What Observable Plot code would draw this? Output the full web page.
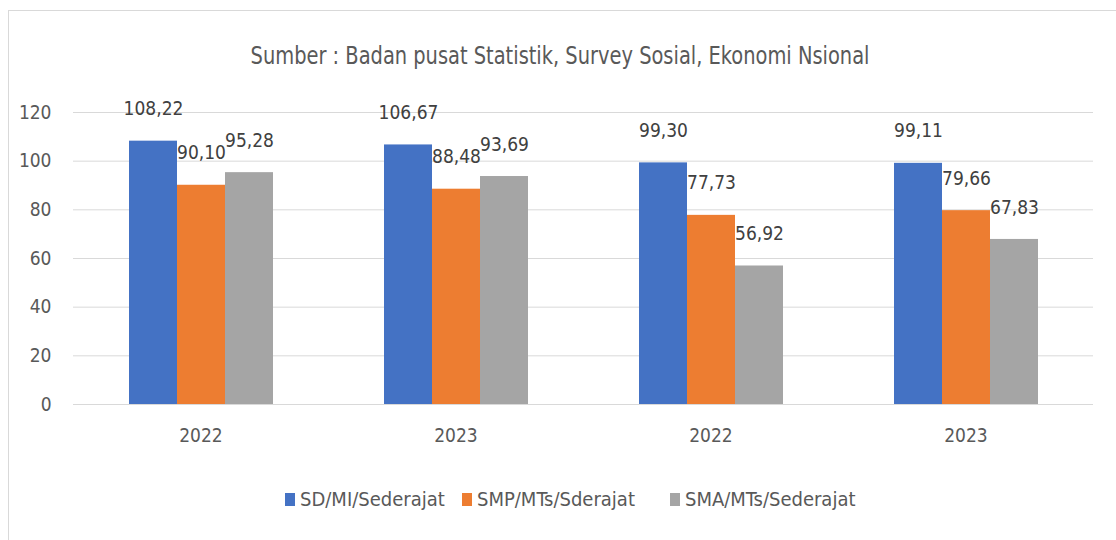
<!DOCTYPE html>
<html>
<head>
<meta charset="utf-8">
<script src="https://cdn.jsdelivr.net/npm/d3@7"></script>
<script src="https://cdn.jsdelivr.net/npm/@observablehq/plot@0.6"></script>
<style>
  html, body { margin: 0; padding: 0; background: #fff; }
  #wrap { position: relative; width: 1116px; height: 540px; overflow: hidden; background: #fff;
          font-family: "Liberation Sans Narrow", "DejaVu Sans Condensed", "Roboto", sans-serif; color: #595959; }
  #frame { position: absolute; left: 8px; top: 10px; width: 1200px; height: 600px; border: 1px solid #d9d9d9; box-sizing: border-box; }
  #title { position: absolute; left: 0; top: 42px; width: 1120px; text-align: center; font-size: 24px; color: #595959;
           transform: scaleX(0.9); transform-origin: 560px 0; white-space: nowrap; }
  #chart { position: absolute; left: 0; top: 0; }
  #legend { position: absolute; left: 0; top: 487px; width: 1116px; height: 28px; font-size: 20px; color: #595959; }
  .item { position: absolute; top: 0; display: flex; align-items: center; white-space: nowrap; }
  .sw { width: 10px; height: 13px; margin-right: 5px; }
</style>
</head>
<body>
<div id="wrap">
  <div id="frame"></div>
  <div id="chart"></div>
  <div id="title">Sumber : Badan pusat Statistik, Survey Sosial, Ekonomi Nsional</div>
  <div id="legend"></div>
</div>
<script>
const groups = ["g1", "g2", "g3", "g4"];
const groupLabels = ["2022", "2023", "2022", "2023"];
const series = ["SD/MI/Sederajat", "SMP/MTs/Sderajat", "SMA/MTs/Sederajat"];
const colors = ["#4472C4", "#ED7D31", "#A5A5A5"];
const sdValues = [108.22, 106.67, 99.30, 99.11];
const smpValues = [90.10, 88.48, 77.73, 79.66];
const smaValues = [95.28, 93.69, 56.92, 67.83];
const yTicks = [0, 20, 40, 60, 80, 100, 120];
const legendLeft = [285, 462, 670];

const seriesValues = [sdValues, smpValues, smaValues];
const data = [];
groups.forEach((g, gi) => {
  series.forEach((s, si) => {
    data.push({ group: g, series: s, value: seriesValues[si][gi] });
  });
});

const fmt = v => v.toFixed(2).replace(".", ",");
const FONT = '"Liberation Sans Narrow", "DejaVu Sans Condensed", "Roboto", sans-serif';

const plot = Plot.plot({
  width: 1116,
  height: 470,
  marginTop: 112,
  marginBottom: 66,
  marginLeft: 72,
  marginRight: 23,
  style: { fontFamily: FONT, fontSize: "19px", color: "#595959", background: "transparent", overflow: "visible" },
  fx: { domain: groups, padding: 0, label: null },
  x: { domain: series, paddingInner: 0, paddingOuter: 1.12, axis: null },
  y: { domain: [0, 120], ticks: yTicks, label: null },
  color: { domain: series, range: colors },
  marks: [
    Plot.gridY(yTicks, { stroke: "#d9d9d9", strokeOpacity: 1, strokeWidth: 1 }),
    Plot.axisY(yTicks, { tickSize: 0, tickPadding: 22, fontSize: 19, fill: "#595959", label: null }),
    Plot.axisFx({ tickSize: 0, tickPadding: 24, fontSize: 19, fill: "#595959", label: null, anchor: "bottom",
                  tickFormat: d => groupLabels[groups.indexOf(d)] }),
    Plot.barY(data, { fx: "group", x: "series", y: "value", fill: "series" }),
    Plot.text(data, { fx: "group", x: "series", y: "value", text: d => fmt(d.value), dy: -32,
                      fontSize: 19, fill: "#404040" })
  ]
});
document.getElementById("chart").appendChild(plot);

const legend = document.getElementById("legend");
series.forEach((s, i) => {
  const it = document.createElement("div");
  it.className = "item";
  it.style.left = legendLeft[i] + "px";
  const sw = document.createElement("div");
  sw.className = "sw";
  sw.style.background = colors[i];
  const t = document.createElement("span");
  t.textContent = s;
  it.appendChild(sw);
  it.appendChild(t);
  legend.appendChild(it);
});
</script>
</body>
</html>
